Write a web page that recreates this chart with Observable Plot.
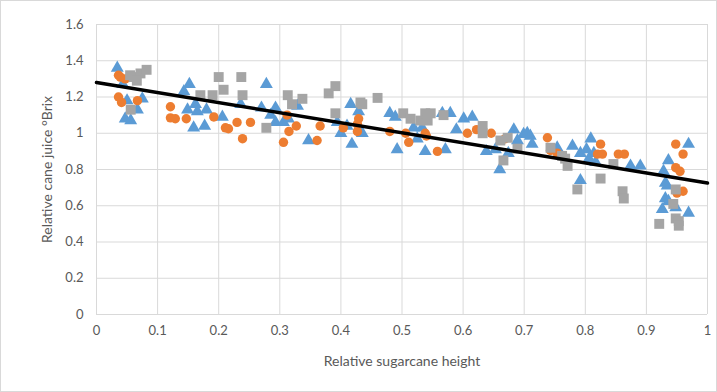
<!DOCTYPE html>
<html>
<head>
<meta charset="utf-8">
<script src="https://cdn.jsdelivr.net/npm/d3@7"></script>
<script src="https://cdn.jsdelivr.net/npm/@observablehq/plot@0.6"></script>
<style>
  html, body { margin: 0; padding: 0; background: #fff; }
  #chart { width: 717px; height: 392px; box-sizing: border-box; border: 1px solid #d9d9d9; overflow: hidden; }
  svg { display: block; }
</style>
</head>
<body>
<div id="chart"></div>
<script>
// Series 1: blue triangles [relative height, relative brix]
const triangles = [
  [0.034,1.36],[0.043,1.27],[0.05,1.18],[0.075,1.19],[0.067,1.13],[0.047,1.08],[0.056,1.07],
  [0.143,1.23],[0.152,1.27],[0.149,1.13],[0.162,1.16],[0.165,1.12],[0.18,1.13],[0.159,1.03],[0.177,1.04],
  [0.206,1.09],[0.236,1.16],[0.278,1.27],[0.27,1.14],[0.293,1.14],[0.285,1.10],[0.293,1.06],[0.306,1.06],
  [0.314,1.08],[0.329,1.15],[0.347,0.96],[0.394,1.06],[0.40,1.0],[0.416,1.16],[0.429,1.12],[0.435,1.0],
  [0.418,0.94],[0.41,1.04],[0.48,1.11],[0.489,1.09],[0.519,1.03],[0.525,0.97],[0.492,0.91],[0.538,0.90],
  [0.533,1.03],[0.571,0.91],[0.566,1.11],[0.579,1.11],[0.589,1.02],[0.601,1.08],[0.615,1.09],[0.638,0.90],
  [0.66,0.80],[0.653,0.91],[0.674,0.89],[0.683,1.02],[0.689,0.96],[0.699,0.995],[0.705,1.0],[0.713,0.94],
  [0.71,0.985],[0.792,0.74],[0.754,0.92],[0.779,0.93],[0.792,0.89],[0.802,0.91],[0.809,0.97],[0.814,0.89],
  [0.817,0.84],[0.806,0.86],[0.874,0.82],[0.89,0.82],[0.928,0.79],[0.936,0.85],[0.931,0.725],[0.934,0.71],
  [0.931,0.64],[0.936,0.625],[0.926,0.58],[0.969,0.94],[0.969,0.56],[0.948,0.59]
];
// Series 2: orange circles
const circles = [
  [0.036,1.32],[0.039,1.31],[0.047,1.30],[0.036,1.20],[0.041,1.17],[0.067,1.18],
  [0.121,1.146],[0.121,1.085],[0.129,1.08],[0.147,1.08],[0.192,1.09],[0.211,1.03],[0.216,1.025],
  [0.23,1.06],[0.252,1.06],[0.239,0.97],[0.312,1.10],[0.315,1.01],[0.306,0.95],[0.327,1.04],
  [0.361,0.96],[0.366,1.04],[0.404,1.03],[0.427,1.05],[0.429,1.08],[0.427,1.01],[0.48,1.01],
  [0.506,1.0],[0.511,0.95],[0.538,1.0],[0.54,0.985],[0.558,0.90],[0.607,1.0],[0.622,1.02],[0.646,1.0],
  [0.669,0.97],[0.738,0.975],[0.743,0.905],[0.754,0.89],[0.825,0.94],[0.82,0.885],[0.828,0.885],
  [0.854,0.885],[0.864,0.885],[0.948,0.94],[0.96,0.885],[0.948,0.81],[0.955,0.79],[0.96,0.68],[0.95,0.67]
];
// Series 3: gray squares
const squares = [
  [0.055,1.32],[0.061,1.31],[0.072,1.33],[0.082,1.35],[0.066,1.29],[0.056,1.13],
  [0.20,1.31],[0.237,1.31],[0.208,1.24],[0.17,1.21],[0.19,1.21],[0.239,1.21],[0.278,1.03],
  [0.313,1.21],[0.32,1.16],[0.337,1.19],[0.38,1.22],[0.391,1.26],[0.391,1.11],[0.432,1.17],
  [0.435,1.16],[0.46,1.195],[0.502,1.11],[0.514,1.08],[0.53,1.07],[0.538,1.11],[0.547,1.11],
  [0.542,1.07],[0.568,1.10],[0.632,1.04],[0.632,1.0],[0.661,0.96],[0.673,0.975],[0.666,0.85],
  [0.689,0.915],[0.743,0.92],[0.762,0.875],[0.767,0.86],[0.771,0.82],[0.787,0.69],[0.825,0.75],
  [0.846,0.83],[0.861,0.68],[0.863,0.64],[0.921,0.50],[0.948,0.69],[0.944,0.61],[0.948,0.53],
  [0.953,0.515],[0.953,0.49]
];
// Linear trend line endpoints
const trend = [[0, 1.28], [1, 0.725]];
// Tick values
const xTicks = [0,0.1,0.2,0.3,0.4,0.5,0.6,0.7,0.8,0.9,1];
const yTicks = [0,0.2,0.4,0.6,0.8,1,1.2,1.4,1.6];

const font = "Lato, 'Open Sans', sans-serif";
const chart = Plot.plot({
  width: 715,
  height: 390,
  marginLeft: 95,
  marginRight: 9,
  marginTop: 23,
  marginBottom: 77,
  style: {fontFamily: font, fontSize: "13px", color: "#595959", background: "#fff"},
  x: {domain: [0, 1], ticks: xTicks, tickSize: 0, tickPadding: 11, tickFormat: d => String(+d.toFixed(1)),
      label: "Relative sugarcane height", labelAnchor: "center", labelOffset: 51, labelArrow: "none"},
  y: {domain: [0, 1.6], ticks: yTicks, tickSize: 0, tickPadding: 13, tickFormat: d => String(+d.toFixed(1)),
      label: "Relative cane juice °Brix", labelAnchor: "center", labelOffset: 54, labelArrow: "none"},
  marks: [
    Plot.gridX(xTicks, {stroke: "#d9d9d9", strokeOpacity: 1, strokeWidth: 1}),
    Plot.gridY(yTicks, {stroke: "#d9d9d9", strokeOpacity: 1, strokeWidth: 1}),
    Plot.dot(triangles, {x: d => d[0], y: d => d[1], symbol: "triangle", r: 4.8, fill: "#5B9BD5", stroke: "none"}),
    Plot.dot(circles, {x: d => d[0], y: d => d[1], symbol: "circle", r: 4.7, fill: "#ED7D31", stroke: "none"}),
    Plot.dot(squares, {x: d => d[0], y: d => d[1], symbol: "square", r: 5.6, fill: "#A5A5A5", stroke: "none"}),
    Plot.line(trend, {x: d => d[0], y: d => d[1], stroke: "#000", strokeWidth: 3.5})
  ]
});
chart.querySelectorAll("g[aria-label$='axis label'] text").forEach(el => {
  el.setAttribute("font-size", "14px");
});
document.getElementById("chart").appendChild(chart);
</script>
</body>
</html>
